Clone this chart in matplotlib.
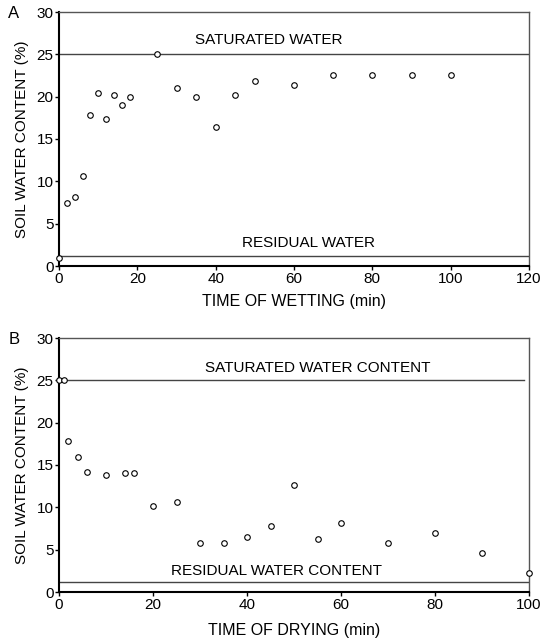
import matplotlib
matplotlib.use("Agg")
import matplotlib.pyplot as plt

plt.rcParams['font.family'] = ['Liberation Sans', 'DejaVu Sans']
plt.rcParams['font.size'] = 10

# Panel A - wetting
wet_time = [0, 2, 4, 6, 8, 10, 12, 14, 16, 18, 25, 30, 35, 40, 45, 50, 60, 70, 80, 90, 100]
wet_swc = [1.0, 7.5, 8.2, 10.6, 17.8, 20.4, 17.4, 20.2, 19.0, 20.0, 25.0, 21.0, 20.0, 16.4,
           20.2, 21.9, 21.4, 22.6, 22.6, 22.6, 22.6]
wet_saturated = 25.0
wet_residual = 1.15

# Panel B - drying
dry_time = [0, 1, 2, 4, 6, 10, 14, 16, 20, 25, 30, 35, 40, 45, 50, 55, 60, 70, 80, 90, 100]
dry_swc = [25.0, 25.0, 17.8, 15.9, 14.2, 13.8, 14.0, 14.0, 10.1, 10.6, 5.8, 5.8, 6.5, 7.8,
           12.6, 6.3, 8.2, 5.8, 7.0, 4.6, 2.2]
dry_saturated = 25.0
dry_residual = 1.2

fig = plt.figure(figsize=(5.42, 6.39), dpi=100)
W, H = 542, 639
axA = fig.add_axes([59 / W, 1 - 266 / H, 470 / W, 254 / H])
axB = fig.add_axes([59 / W, 1 - 592 / H, 470 / W, 254 / H])


def style(ax):
    for s in ['left', 'bottom']:
        ax.spines[s].set_linewidth(1.5)
        ax.spines[s].set_color('black')
    for s in ['top', 'right']:
        ax.spines[s].set_linewidth(1.0)
        ax.spines[s].set_color('#555555')
    ax.tick_params(direction='out', length=3, width=1, labelsize=11, pad=1)
    ax.set_ylim(0, 30)
    ax.set_yticks([0, 5, 10, 15, 20, 25, 30])
    ax.set_ylabel('SOIL WATER CONTENT (%)', fontsize=11, labelpad=5)


# A
axA.plot([0, 120], [wet_saturated, wet_saturated], color='#444444', lw=1.0)
axA.plot([0, 120], [wet_residual, wet_residual], color='#444444', lw=1.0)
axA.plot(wet_time, wet_swc, 'o', mfc='white', mec='black', ms=4, mew=0.8, clip_on=False, zorder=3)
axA.set_xlim(0, 120)
axA.set_xticks([0, 20, 40, 60, 80, 100, 120])
axA.text(53.6, 26.7, 'SATURATED WATER', ha='center', va='center', fontsize=11)
axA.text(63.6, 2.7, 'RESIDUAL WATER', ha='center', va='center', fontsize=11)
axA.set_xlabel('TIME OF WETTING (min)', fontsize=11.5, labelpad=6)
style(axA)
fig.text(14 / W, 1 - 13 / H, 'A', fontsize=12, ha='center', va='center')

# B
axB.plot([0, 99], [dry_saturated, dry_saturated], color='#444444', lw=1.0)
axB.plot([0, 100], [dry_residual, dry_residual], color='#444444', lw=1.0)
axB.plot(dry_time, dry_swc, 'o', mfc='white', mec='black', ms=4, mew=0.8, clip_on=False, zorder=3)
axB.set_xlim(0, 100)
axB.set_xticks([0, 20, 40, 60, 80, 100])
axB.text(55, 26.4, 'SATURATED WATER CONTENT', ha='center', va='center', fontsize=11)
axB.text(46.3, 2.5, 'RESIDUAL WATER CONTENT', ha='center', va='center', fontsize=11)
axB.set_xlabel('TIME OF DRYING (min)', fontsize=11.5, labelpad=8)
style(axB)
fig.text(14 / W, 1 - 339 / H, 'B', fontsize=12, ha='center', va='center')

fig.savefig('out.png', dpi=100)
